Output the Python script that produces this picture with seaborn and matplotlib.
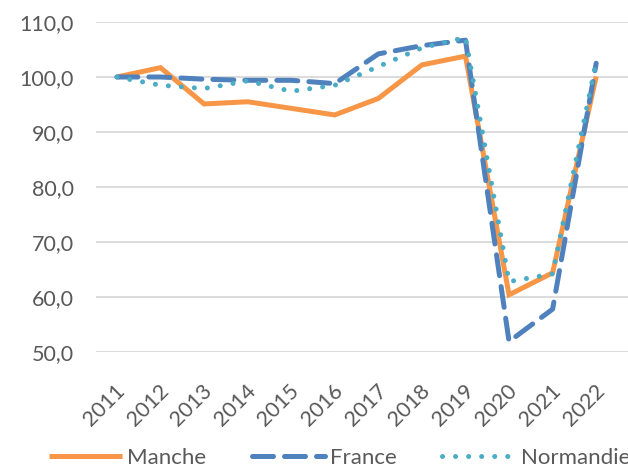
import matplotlib
matplotlib.use("Agg")
import matplotlib.pyplot as plt
import matplotlib.transforms as mtransforms
from matplotlib.ticker import FuncFormatter
import pandas as pd
import seaborn as sns

# Data (index, 2011 = 100)
years = [2011, 2012, 2013, 2014, 2015, 2016, 2017, 2018, 2019, 2020, 2021, 2022]
manche = [100.0, 101.7, 95.1, 95.5, 94.3, 93.1, 96.1, 102.2, 103.8, 60.4, 64.4, 100.1]
france = [100.0, 100.0, 99.6, 99.4, 99.4, 98.8, 104.2, 105.7, 106.7, 51.9, 57.8, 102.5]
normandie = [100.0, 98.5, 97.9, 99.3, 97.4, 98.5, 101.9, 105.3, 107.2, 62.8, 64.2, 102.8]

series_names = ["Manche", "France", "Normandie"]
colors = {"Manche": "#F79646", "France": "#4F81BD", "Normandie": "#4BACC6"}

df = pd.DataFrame({
    "pos": list(range(len(years))) * 3,
    "value": manche + france + normandie,
    "serie": [s for s in series_names for _ in years],
})

sns.set_theme(style="white")
plt.rcParams["font.family"] = ["Lato", "DejaVu Sans"]
text_col = "#595959"

fig = plt.figure(figsize=(6.28, 4.70), dpi=100)
ax = fig.add_axes([96 / 628, 118 / 470, 1 - 96 / 628, 330 / 470])

for name in series_names:
    sub = df[df["serie"] == name]
    sns.lineplot(data=sub, x="pos", y="value", color=colors[name], ax=ax,
                 linewidth=3.6, label=name, legend=False)

lines = ax.get_lines()
lines[0].set_solid_capstyle("butt")
lines[0].set_solid_joinstyle("miter")
lines[1].set_dashes((4.2, 2.2))
lines[1].set_dash_capstyle("round")
lines[2].set_linewidth(3.6)
lines[2].set_dashes((0.01, 2.6))
lines[2].set_dash_capstyle("round")

ax.set_ylim(50, 110)
ax.set_yticks(range(50, 111, 10))
ax.yaxis.set_major_formatter(FuncFormatter(lambda v, p: f"{v:.1f}".replace(".", ",")))
ax.set_xlim(-0.48, 11.73)
ax.set_xticks(range(len(years)))
ax.set_xticklabels([str(y) for y in years])
ax.set_xlabel("")
ax.set_ylabel("")

ax.grid(axis="y", color="#D9D9D9", linewidth=1.3)
ax.set_axisbelow(True)
for sp in ax.spines.values():
    sp.set_visible(False)
ax.tick_params(axis="both", length=0, labelsize=15.5, colors=text_col)
ax.tick_params(axis="y", pad=16)

offset = mtransforms.ScaledTranslation(-0.02, -0.24, fig.dpi_scale_trans)
for lab in ax.get_xticklabels():
    lab.set_rotation(45)
    lab.set_ha("right")
    lab.set_rotation_mode("anchor")
    lab.set_transform(lab.get_transform() + offset)

handles = ax.get_lines()
fig.legend(handles, series_names, loc="center left", bbox_to_anchor=(49 / 628, 12 / 470),
           ncol=3, frameon=False, fontsize=16, labelcolor=text_col,
           handlelength=3.3, handletextpad=0.22, columnspacing=2.05,
           borderaxespad=0, borderpad=0)

fig.savefig("out.png", dpi=100)
